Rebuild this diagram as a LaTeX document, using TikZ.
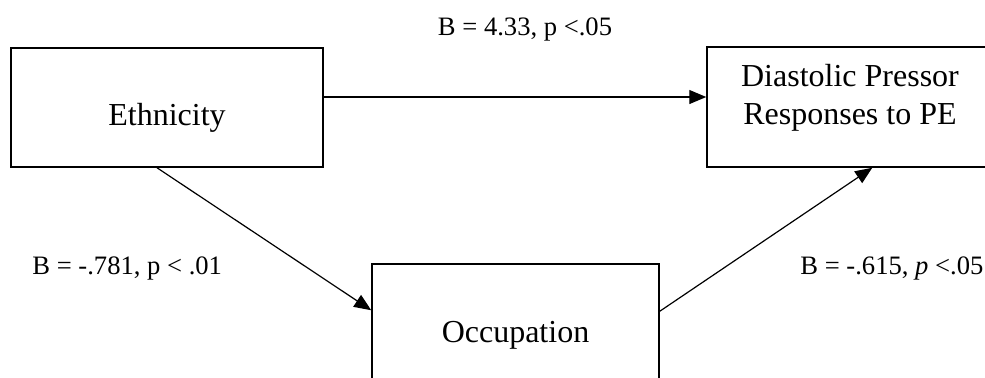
\documentclass[tikz,border=0pt]{standalone}
\usepackage{fontspec}
\setmainfont{Liberation Serif}
\usetikzlibrary{arrows.meta}

\tikzset{
    box/.style={draw, line width=0.75pt, inner sep=0pt},
    boxtext/.style={inner sep=0pt, align=center, font=\fontsize{16}{19}\selectfont},
    coef/.style={inner sep=0pt, font=\fontsize{13.3}{16}\selectfont},
    link/.style={line width=0.6pt, -{Triangle[length=8.5pt,width=7pt]}}
}

\begin{document}
\begin{tikzpicture}[x=0.5pt,y=-0.5pt]
    \useasboundingbox (0,0) rectangle (985,377);
    \node[box, minimum width=156pt, minimum height=59.5pt] (eth) at (167,107.5) {};
    \node[box, minimum width=142pt, minimum height=60pt] (dpr) at (849,107) {};
    \node[box, minimum width=143.5pt, minimum height=70pt] (occ) at (515.5,334) {};

    \node[boxtext, anchor=base] (ethtext) at (167,125) {Ethnicity};
    \node[boxtext, anchor=north] (dprtext) at (850,64) {Diastolic Pressor\\Responses to PE};
    \node[boxtext, anchor=base] (occtext) at (515.5,342) {Occupation};

    \node[coef, anchor=base] (b1) at (525,35) {B = 4.33, p <.05};
    \node[coef, anchor=base west] (b2) at (32,274) {B = -.781, p < .01};
    \node[coef, anchor=base west] (b3) at (800,274) {B = -.615, \textit{p} <.05};

    \draw[link] ([yshift=5.25pt]eth.east) -- ([yshift=5.25pt]eth.east -| dpr.west);
    \draw[link] ([xshift=-5pt]eth.south) -- ([yshift=-23.5pt]occ.north west);
    \draw[link] ([yshift=-24pt]occ.north east) -- ([xshift=83pt]dpr.south west);
\end{tikzpicture}
\end{document}
